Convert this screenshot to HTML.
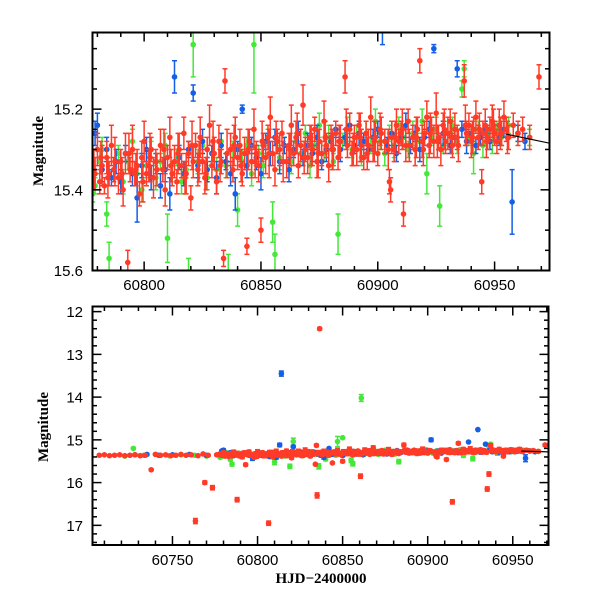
<!DOCTYPE html>
<html><head><meta charset="utf-8"><style>
html,body{margin:0;padding:0;background:#fff;overflow:hidden;width:600px;height:600px;}
svg{display:block;font-family:"Liberation Sans",sans-serif;}
</style></head><body>
<svg id="chart" width="600" height="600" viewBox="0 0 600 600" xmlns="http://www.w3.org/2000/svg">
<defs>
<clipPath id="clipTop"><rect x="92.5" y="32.5" width="457" height="238"/></clipPath>
<clipPath id="clipBot"><rect x="92.5" y="306.5" width="456" height="238.5"/></clipPath>
</defs>
<g id="topPanel"></g>
<g id="botPanel"></g>
<text x="0" y="0" transform="translate(43,151) rotate(-90)" text-anchor="middle" font-family="Liberation Serif, serif" font-weight="bold" font-size="15">Magnitude</text>
<text x="0" y="0" transform="translate(48,427) rotate(-90)" text-anchor="middle" font-family="Liberation Serif, serif" font-weight="bold" font-size="15">Magnitude</text>
<text x="321" y="583" text-anchor="middle" font-family="Liberation Serif, serif" font-weight="bold" font-size="15">HJD−2400000</text>
</svg>
<script>
const redT=[60707,60710,60713,60716,60719,60722,60725,60728,60731,60734,60737.5,60740,60743,60746,60749,60752,60755,60758,60761,60763.5,60765,60768,60769,60771,60773.5,60776,
60778,60779,60780,60781,60782,60783,60784,60785,60786,60787,60788,60789,60790,60791,60792,60793,60794,60795,60796,60797,60798,60799,60800,60801,60802,60803,60804,60805,60806.5,60807,60808,60809,60810,60811,60812,60813,60814,60815,60816,60817,60818,60819,60820,60821,60822,60823,60824,60825,60826,60827,60828,60829,60830,60831,60832,60833,60834,60834.6,60835,60836.5,60837,60838,60839,60840,60841,60842,60843,60844,60845,60846,60847,60848,60849,60850,60851,60852,60853,60854,60855,60856,60857,60858,60859,60860.5,60861,60862,60863,60864,60865,60866,60867,60868,60869,60870,60871,60872,60873,60874,60875,60876,60877,60878,60879,60880,60881,60882,60883,60884,60886,60887,60888,60889,60890,60891,60892,60893,60894,60895,60896,60897,60898,60899,60900,60901,60903,60905,60905.5,60906,60907,60908,60909,60910,60911,60912,60913,60914.5,60915,60916,60917,60918,60919,60920,60921,60922,60923,60924,60925,60926,60927,60928,60929,60930,60931,60932,60933,60934,60935,60936,60937,60938,60939,60940,60941,60942,60943,60944.5,60945,60946,60947,60948,60949,60950,60951,60952,60953,60954,60955,60956,60958,60960,60962,60965,60969];
const redM=[15.36,15.35,15.37,15.36,15.35,15.37,15.36,15.35,15.37,15.36,15.70,15.34,15.36,15.35,15.37,15.36,15.34,15.36,15.35,16.90,15.37,15.33,16.00,15.36,16.12,15.35,
15.33,15.36,15.30,15.38,15.34,15.39,15.32,15.36,15.29,15.35,16.40,15.37,15.33,15.40,15.31,15.58,15.35,15.30,15.36,15.34,15.41,15.32,15.28,15.36,15.34,15.30,15.37,15.33,16.95,15.29,15.35,15.40,15.32,15.27,15.36,15.33,15.38,15.30,15.34,15.26,15.36,15.31,15.42,15.33,15.29,15.35,15.27,15.33,15.37,15.30,15.24,15.34,15.31,15.38,15.28,15.33,15.57,15.13,16.30,12.40,15.30,15.35,15.27,15.32,15.29,15.36,15.31,15.54,15.28,15.33,15.25,15.31,15.34,15.50,15.29,15.32,15.27,15.22,15.31,15.35,15.28,15.30,15.26,15.85,15.33,15.29,15.24,15.31,15.27,15.34,15.29,15.19,15.30,15.32,15.27,15.30,15.25,15.33,15.28,15.31,15.23,15.29,15.34,15.27,15.30,15.26,15.32,15.28,15.12,15.29,15.25,15.31,15.27,15.30,15.24,15.29,15.32,15.26,15.29,15.22,15.30,15.27,15.31,15.25,15.28,15.38,15.40,15.27,15.30,15.24,15.28,15.26,15.46,15.29,15.23,16.45,15.27,15.30,15.25,15.08,15.28,15.26,15.22,15.29,15.25,15.28,15.21,15.27,15.30,15.24,15.28,15.26,15.23,15.29,15.25,15.27,16.15,15.80,15.13,15.26,15.24,15.28,15.25,15.22,15.27,15.38,15.26,15.24,15.27,15.25,15.23,15.26,15.28,15.24,15.26,15.22,15.25,15.27,15.24,15.26,15.25,15.27,15.12];
const redE=[0.02,0.02,0.02,0.02,0.02,0.02,0.02,0.02,0.02,0.02,0.02,0.02,0.02,0.02,0.02,0.02,0.02,0.02,0.02,0.06,0.02,0.02,0.04,0.02,0.05,0.02,
0.03,0.04,0.04,0.03,0.05,0.02,0.04,0.03,0.05,0.03,0.05,0.04,0.03,0.04,0.05,0.03,0.03,0.06,0.03,0.04,0.03,0.04,0.05,0.03,0.04,0.03,0.05,0.03,0.05,0.04,0.03,0.04,0.03,0.05,0.03,0.04,0.03,0.04,0.03,0.04,0.05,0.03,0.03,0.04,0.03,0.04,0.05,0.03,0.04,0.03,0.05,0.03,0.04,0.03,0.04,0.03,0.02,0.03,0.06,0.03,0.04,0.03,0.05,0.03,0.04,0.03,0.04,0.02,0.03,0.04,0.05,0.03,0.04,0.03,0.03,0.04,0.03,0.05,0.03,0.04,0.03,0.04,0.03,0.05,0.04,0.03,0.05,0.03,0.04,0.03,0.04,0.05,0.03,0.04,0.03,0.04,0.03,0.04,0.03,0.03,0.05,0.03,0.04,0.03,0.04,0.03,0.03,0.04,0.04,0.03,0.04,0.03,0.03,0.04,0.03,0.04,0.03,0.03,0.04,0.05,0.03,0.04,0.03,0.04,0.03,0.03,0.03,0.04,0.03,0.04,0.03,0.03,0.03,0.04,0.03,0.05,0.03,0.04,0.03,0.03,0.04,0.03,0.04,0.03,0.03,0.04,0.05,0.03,0.04,0.03,0.03,0.04,0.03,0.03,0.04,0.03,0.05,0.05,0.04,0.03,0.03,0.04,0.03,0.04,0.03,0.03,0.03,0.04,0.03,0.03,0.04,0.03,0.03,0.04,0.03,0.04,0.03,0.03,0.03,0.03,0.03,0.03,0.03];
const red2T=[60778.5,60781.5,60784.5,60787.5,60790.5,60793.5,60796.5,60799.5,60802.5,60805.5,60808.5,60811.5,60814.5,60817.5,60820.5,60823.5,60826.5,60829.5,60832.5,60835.5,60838.5,60841.5,60844.5,60847.5,60850.5,60853.5,60856.5,60859.5,60862.5,60865.5,60868.5,60871.5,60874.5,60877.5,60880.5,60883.5,60886.5,60889.5,60892.5,60895.5,60898.5,60901.5,60904.5,60907.5,60910.5,60913.5,60916.5,60919.5,60922.5,60925.5,60928.5,60931.5,60934.5,60937.5,60940.5,60943.5,60946.5,60949.5,60952.5,60955.5];
const red2M=[15.35,15.32,15.37,15.33,15.36,15.31,15.35,15.38,15.32,15.35,15.30,15.34,15.31,15.37,15.29,15.33,15.36,15.28,15.34,15.31,15.29,15.34,15.30,15.33,15.28,15.31,15.27,15.33,15.30,15.26,15.32,15.29,15.31,15.27,15.30,15.28,15.25,15.30,15.27,15.31,15.28,15.26,15.30,15.27,15.25,15.29,15.27,15.30,15.26,15.28,15.25,15.27,15.29,15.24,15.27,15.25,15.28,15.24,15.26,15.27];
const red2E=[0.05,0.04,0.05,0.06,0.04,0.05,0.04,0.05,0.06,0.04,0.05,0.04,0.05,0.04,0.06,0.05,0.04,0.05,0.04,0.06,0.05,0.04,0.05,0.04,0.05,0.06,0.04,0.05,0.04,0.05,0.04,0.05,0.06,0.04,0.05,0.04,0.05,0.04,0.06,0.04,0.05,0.04,0.05,0.04,0.05,0.04,0.05,0.04,0.05,0.04,0.05,0.04,0.04,0.05,0.04,0.04,0.04,0.04,0.04,0.04];
const blueT=[60728,60735,60742,60750,60760,60770,60778,60779,60780,60782,60784,60786,60788,60790,60792,60795,60797,60799,60801,60803,60805,60807,60809,60811,60813,60814,60815,60817,60819,60821,60823,60825,60827,60829,60831,60833,60835,60837,60839,60840,60842,60844,60846,60848,60850,60852,60854,60856,60858,60860,60862,60864,60866,60868,60870,60872,60874,60876,60878,60880,60882,60884,60886,60888,60890,60892,60894,60896,60898,60900,60902,60904,60906,60908,60910,60912,60914,60916,60918,60920,60922,60924,60926,60928,60929.5,60931,60933,60934,60936,60938,60940,60942,60944,60946,60948,60950,60952,60954,60957.5,60960,60963];
const blueM=[15.35,15.34,15.36,15.35,15.34,15.36,15.33,15.26,15.24,15.35,15.30,15.37,15.33,15.38,15.31,15.36,15.42,15.34,15.30,15.37,15.33,15.39,15.35,15.41,15.12,13.45,15.32,15.36,15.30,15.16,15.34,15.28,15.35,15.31,15.37,15.29,15.33,15.36,15.41,15.30,15.20,15.34,15.29,15.32,15.36,15.28,15.31,15.27,15.33,15.29,15.35,15.30,15.26,15.32,15.29,15.31,15.27,15.33,15.30,15.28,15.25,15.30,15.27,15.24,15.29,15.26,15.28,15.30,15.27,15.25,15.00,15.29,15.26,15.31,15.27,15.24,15.29,15.26,15.30,15.27,15.25,15.05,15.28,15.26,14.76,15.29,15.27,15.10,15.25,15.28,15.26,15.29,15.27,15.25,15.28,15.26,15.27,15.25,15.43,15.26,15.28];
const blueE=[0.02,0.02,0.02,0.02,0.02,0.02,0.03,0.03,0.03,0.03,0.03,0.02,0.03,0.03,0.02,0.03,0.06,0.03,0.03,0.03,0.02,0.03,0.03,0.04,0.04,0.06,0.03,0.03,0.02,0.02,0.03,0.03,0.03,0.02,0.04,0.03,0.02,0.03,0.04,0.02,0.01,0.03,0.02,0.03,0.04,0.02,0.03,0.02,0.03,0.02,0.03,0.02,0.03,0.02,0.03,0.02,0.03,0.02,0.03,0.02,0.02,0.03,0.02,0.03,0.02,0.03,0.02,0.03,0.02,0.02,0.04,0.02,0.03,0.02,0.02,0.03,0.02,0.02,0.03,0.02,0.02,0.01,0.02,0.03,0.01,0.02,0.02,0.02,0.02,0.03,0.02,0.02,0.02,0.02,0.02,0.02,0.02,0.02,0.08,0.02,0.02];
const greenT=[60722,60727,60733,60740,60748,60755,60763,60770,60778,60779,60781,60782,60784,60785,60787,60789,60791,60793,60795,60797,60799,60801,60803,60805,60807,60809,60810,60812,60814,60816,60818,60819,60821,60823,60825,60827,60829,60831,60833,60835,60836,60838,60840,60842,60844,60846,60847,60849,60850,60851,60853,60855,60856,60858,60860,60861,60863,60865,60867,60869,60871,60873,60875,60877,60879,60881,60883,60885,60887,60889,60891,60893,60895,60897,60899,60901,60903,60905,60907,60909,60911,60913,60915,60917,60919,60921,60923,60925,60926.5,60928,60930,60932,60934,60936,60937,60939,60941,60943,60945,60947,60949,60951,60953,60956,60960,60965];
const greenM=[15.38,15.20,15.36,15.34,15.37,15.35,15.36,15.38,15.41,15.39,15.33,15.30,15.46,15.57,15.35,15.31,15.38,15.33,15.28,15.36,15.40,15.34,15.30,15.37,15.33,15.29,15.52,15.36,15.32,15.38,15.35,15.62,15.04,15.33,15.29,15.37,15.31,15.35,15.28,15.34,15.62,15.30,15.45,15.33,15.29,15.36,15.04,15.31,14.95,15.34,15.27,15.48,15.56,15.32,15.29,14.02,15.33,15.28,15.31,15.26,15.34,15.29,15.24,15.31,15.27,15.33,15.51,15.28,15.25,15.30,15.27,15.32,15.26,15.29,15.23,15.28,15.31,15.26,15.29,15.24,15.27,15.30,15.26,15.28,15.23,15.36,15.27,15.25,15.44,15.29,15.26,15.24,15.28,15.15,15.10,15.27,15.31,15.25,15.29,15.26,15.28,15.25,15.27,15.24,15.26,15.27];
const greenE=[0.02,0.02,0.02,0.02,0.02,0.02,0.02,0.02,0.02,0.02,0.03,0.03,0.03,0.04,0.03,0.02,0.03,0.02,0.03,0.02,0.03,0.03,0.02,0.03,0.02,0.03,0.06,0.03,0.02,0.03,0.02,0.05,0.08,0.03,0.02,0.03,0.02,0.03,0.02,0.03,0.06,0.02,0.04,0.03,0.02,0.03,0.12,0.02,0.01,0.03,0.02,0.05,0.05,0.03,0.02,0.08,0.03,0.02,0.03,0.02,0.03,0.02,0.03,0.02,0.03,0.02,0.05,0.02,0.03,0.02,0.03,0.02,0.03,0.02,0.03,0.02,0.03,0.02,0.03,0.02,0.03,0.02,0.03,0.02,0.03,0.05,0.02,0.03,0.05,0.02,0.03,0.02,0.03,0.02,0.02,0.02,0.05,0.02,0.03,0.02,0.03,0.02,0.02,0.02,0.02,0.02];
const fitT=[60955,60974];
const fitM=[15.262,15.285];
const topXTicks=[60800,60850,60900,60950];
const topYTicks=[15.2,15.4,15.6];
const botXTicks=[60750,60800,60850,60900,60950];
const botYTicks=[12,13,14,15,16,17];

const NS='http://www.w3.org/2000/svg';
function mk(tag,attrs,parent){const e=document.createElementNS(NS,tag);for(const k in attrs)e.setAttribute(k,attrs[k]);parent.appendChild(e);return e;}

const panels=[
 {g:document.getElementById('topPanel'),clip:'clipTop',x0:92.5,x1:549.5,y0:32.5,y1:270.5,tMin:60777.9,tMax:60973.5,mMin:15.010,mMax:15.600,
  xt:topXTicks,xMinor:10,yt:topYTicks,yMinor:0.05,yDec:1,xLabY:290,prefix:'top'},
 {g:document.getElementById('botPanel'),clip:'clipBot',x0:92.5,x1:548.5,y0:306.5,y1:545,tMin:60703,tMax:60971,mMin:11.88,mMax:17.46,
  xt:botXTicks,xMinor:10,yt:botYTicks,yMinor:0.2,yDec:0,xLabY:565,prefix:'bottom'}
];

const series=[
 {name:'green',T:greenT,M:greenM,E:greenE,c:'#45e83a'},
 {name:'blue',T:blueT,M:blueM,E:blueE,c:'#135fe6'},
 {name:'red',T:red2T,M:red2M,E:red2E,c:'#ff3b28'},
 {name:'red',T:redT,M:redM,E:redE,c:'#ff3b28'}
];

panels.forEach(p=>{
 const xs=t=>p.x0+(t-p.tMin)/(p.tMax-p.tMin)*(p.x1-p.x0);
 const ys=m=>p.y0+(m-p.mMin)/(p.mMax-p.mMin)*(p.y1-p.y0);
 const dg=mk('g',{'clip-path':'url(#'+p.clip+')'},p.g);
 
 
 series.forEach(s=>{
  const sg=mk('g',{stroke:s.c,fill:s.c,'stroke-width':1.5},dg);
  
  
  for(let i=0;i<s.T.length;i++){
   const x=xs(s.T[i]),y=ys(s.M[i]),ya=ys(s.M[i]-s.E[i]),yb=ys(s.M[i]+s.E[i]);
   const pg=mk('g',{},sg);
   
   
   mk('line',{x1:x,x2:x,y1:ya,y2:yb},pg);
   mk('line',{x1:x-2.5,x2:x+2.5,y1:ya,y2:ya},pg);
   mk('line',{x1:x-2.5,x2:x+2.5,y1:yb,y2:yb},pg);
   mk('circle',{cx:x,cy:y,r:2.8,stroke:'none'},pg);
  }
 });
 const fl=mk('line',{x1:xs(fitT[0]),y1:ys(fitM[0]),x2:xs(fitT[1]),y2:ys(fitM[1]),stroke:'#000','stroke-width':1.2},dg);
 
 
 const ax=mk('g',{stroke:'#000','stroke-width':1.5,fill:'none'},p.g);
 
 
 mk('rect',{x:p.x0,y:p.y0,width:p.x1-p.x0,height:p.y1-p.y0,'stroke-width':2},ax);
 for(let t=Math.ceil(p.tMin/p.xMinor)*p.xMinor;t<=p.tMax;t+=p.xMinor){
  const x=xs(t),maj=(t%50===0),L=maj?9:4.5;
  mk('line',{x1:x,x2:x,y1:p.y1,y2:p.y1-L},ax);
  mk('line',{x1:x,x2:x,y1:p.y0,y2:p.y0+L},ax);
 }
 const nMin=Math.ceil(p.mMin/p.yMinor-1e-6),nMax=Math.floor(p.mMax/p.yMinor+1e-6);
 for(let n=nMin;n<=nMax;n++){
  const m=n*p.yMinor,y=ys(m);
  const maj=p.yt.some(v=>Math.abs(v-m)<1e-6)||(p.prefix==='top'&&Math.abs(m*10-Math.round(m*10))<1e-6&&Math.round(m*10)%2===0);
  const L=maj?9:4.5;
  mk('line',{x1:p.x0,x2:p.x0+L,y1:y,y2:y},ax);
  mk('line',{x1:p.x1,x2:p.x1-L,y1:y,y2:y},ax);
 }
 p.xt.forEach(v=>{
  const tx=mk('text',{x:xs(v),y:p.xLabY,'text-anchor':'middle','font-size':15,fill:'#000'},p.g);
  
  
  tx.textContent=v;
 });
 p.yt.forEach(v=>{
  const tx=mk('text',{x:83,y:ys(v)+5.5,'text-anchor':'end','font-size':15,fill:'#000'},p.g);
  
  
  tx.textContent=v.toFixed(p.yDec);
 });
});
</script>
</body></html>
